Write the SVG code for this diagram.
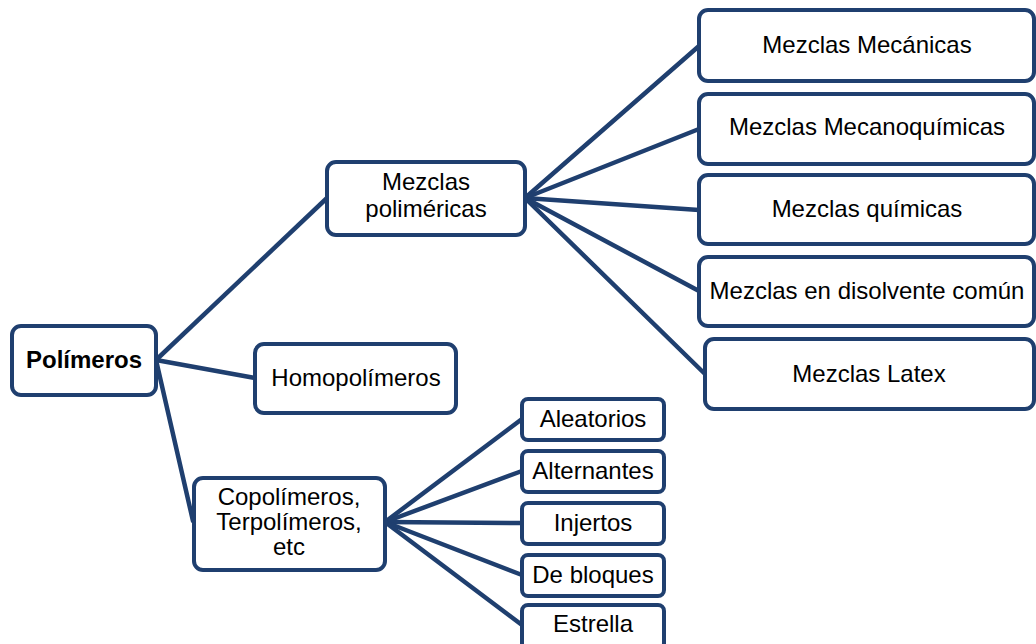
<svg xmlns="http://www.w3.org/2000/svg" width="1036" height="644" viewBox="0 0 1036 644">
<style>
.box{fill:#fff;stroke:#1F3F6F;stroke-width:4;}
.ln{stroke:#1F3F6F;stroke-width:4.5;fill:none;stroke-linecap:round;}
text{font-family:"Liberation Sans",Arial,sans-serif;font-size:24px;fill:#000;text-anchor:middle;}
.b{font-weight:bold;}
</style>
<rect width="1036" height="644" fill="#fff"/>
<g id="connectors">
<line class="ln" x1="156" y1="360" x2="327" y2="198"/>
<line class="ln" x1="156" y1="360" x2="255" y2="378"/>
<line class="ln" x1="156" y1="360" x2="193" y2="521"/>
<line class="ln" x1="525" y1="198" x2="699" y2="46"/>
<line class="ln" x1="525" y1="198" x2="699" y2="129"/>
<line class="ln" x1="525" y1="198" x2="699" y2="210"/>
<line class="ln" x1="525" y1="198" x2="699" y2="291"/>
<line class="ln" x1="525" y1="198" x2="705" y2="374"/>
<line class="ln" x1="385" y1="522" x2="522" y2="419"/>
<line class="ln" x1="385" y1="522" x2="522" y2="471"/>
<line class="ln" x1="385" y1="522" x2="522" y2="523"/>
<line class="ln" x1="385" y1="522" x2="522" y2="575"/>
<line class="ln" x1="385" y1="522" x2="522" y2="625"/>
</g>
<g id="polimeros"><rect class="box" x="12" y="326" width="144" height="69" rx="9"/><text class="b" x="84" y="368">Polímeros</text></g>
<g id="mezclas-polimericas"><rect class="box" x="327" y="162" width="198" height="73" rx="9"/><text x="426" y="190">Mezclas</text><text x="426" y="217">poliméricas</text></g>
<g id="homopolimeros"><rect class="box" x="255" y="344" width="201" height="69" rx="9"/><text x="356" y="386">Homopolímeros</text></g>
<g id="copolimeros"><rect class="box" x="194" y="478" width="191" height="92" rx="9"/><text x="289" y="505">Copolímeros,</text><text x="289" y="530">Terpolímeros,</text><text x="289" y="555">etc</text></g>
<g id="mecanicas"><rect class="box" x="699" y="10" width="335" height="71" rx="9"/><text x="867" y="53">Mezclas Mecánicas</text></g>
<g id="mecanoquimicas"><rect class="box" x="699" y="94" width="335" height="70" rx="9"/><text x="867" y="135">Mezclas Mecanoquímicas</text></g>
<g id="quimicas"><rect class="box" x="699" y="175" width="335" height="69" rx="9"/><text x="867" y="217">Mezclas químicas</text></g>
<g id="disolvente"><rect class="box" x="699" y="257" width="335" height="69" rx="9"/><text x="867" y="299">Mezclas en disolvente común</text></g>
<g id="latex"><rect class="box" x="705" y="339" width="329" height="70" rx="9"/><text x="869" y="382">Mezclas Latex</text></g>
<g id="aleatorios"><rect class="box" x="522" y="399" width="142" height="41" rx="6"/><text x="593" y="427">Aleatorios</text></g>
<g id="alternantes"><rect class="box" x="522" y="451" width="142" height="41" rx="6"/><text x="593" y="479">Alternantes</text></g>
<g id="injertos"><rect class="box" x="522" y="503" width="142" height="41" rx="6"/><text x="593" y="531">Injertos</text></g>
<g id="debloques"><rect class="box" x="522" y="555" width="142" height="41" rx="6"/><text x="593" y="583">De bloques</text></g>
<g id="estrella"><rect class="box" x="522" y="605" width="142" height="44" rx="6"/><text x="593" y="632">Estrella</text></g>
</svg>
